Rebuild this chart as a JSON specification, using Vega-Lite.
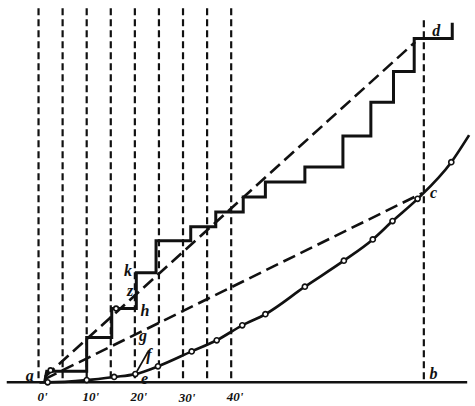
{
  "$schema": "https://vega.github.io/schema/vega-lite/v6.json",
  "width": 475,
  "height": 406,
  "autosize": {"type": "fit", "contains": "padding"},
  "padding": 0,
  "background": "white",
  "config": {"view": {"stroke": null}},
  "datasets": {
    "vlines": [
      {"m": 0, "top": 77.5}, {"m": 5, "top": 77.5}, {"m": 10, "top": 77.5},
      {"m": 15, "top": 77.5}, {"m": 20, "top": 77.5}, {"m": 25, "top": 77.5},
      {"m": 30, "top": 77.5}, {"m": 35, "top": 77.5}, {"m": 40, "top": 77.5},
      {"m": 80, "top": 75}
    ],
    "steps": [
      {"i": 0, "m": 1.3, "y": 0.2}, {"i": 1, "m": 1.7, "y": 2.3}, {"i": 2, "m": 10, "y": 2.3}, {"i": 3, "m": 10, "y": 9.3},
      {"i": 4, "m": 15.2, "y": 9.3}, {"i": 5, "m": 15.2, "y": 15.3}, {"i": 6, "m": 20.3, "y": 15.3}, {"i": 7, "m": 20.3, "y": 22.7},
      {"i": 8, "m": 24.4, "y": 22.7}, {"i": 9, "m": 24.4, "y": 29.3}, {"i": 10, "m": 31.6, "y": 29.3}, {"i": 11, "m": 31.6, "y": 32.2},
      {"i": 12, "m": 36.8, "y": 32.2}, {"i": 13, "m": 36.8, "y": 35.3}, {"i": 14, "m": 42.5, "y": 35.3}, {"i": 15, "m": 42.5, "y": 38.4},
      {"i": 16, "m": 47.1, "y": 38.4}, {"i": 17, "m": 47.1, "y": 41.5}, {"i": 18, "m": 55.3, "y": 41.5}, {"i": 19, "m": 55.3, "y": 44.6},
      {"i": 20, "m": 63.2, "y": 44.6}, {"i": 21, "m": 63.2, "y": 51.0}, {"i": 22, "m": 69.0, "y": 51.0}, {"i": 23, "m": 69.0, "y": 58.0},
      {"i": 24, "m": 73.7, "y": 58.0}, {"i": 25, "m": 73.7, "y": 64.4}, {"i": 26, "m": 78.0, "y": 64.4}, {"i": 27, "m": 78.0, "y": 71.2},
      {"i": 28, "m": 85.9, "y": 71.2}, {"i": 29, "m": 85.9, "y": 74.5}
    ],
    "curve": [
      {"m": 0.2, "y": 0.0, "dot": false},
      {"m": 1.9, "y": 0.0, "dot": true},
      {"m": 10.0, "y": 0.45, "dot": true},
      {"m": 15.7, "y": 1.1, "dot": true},
      {"m": 20.1, "y": 1.7, "dot": true},
      {"m": 24.8, "y": 3.3, "dot": true},
      {"m": 31.8, "y": 6.4, "dot": true},
      {"m": 37.0, "y": 8.7, "dot": true},
      {"m": 42.3, "y": 11.8, "dot": true},
      {"m": 47.1, "y": 14.1, "dot": true},
      {"m": 55.3, "y": 19.8, "dot": true},
      {"m": 63.4, "y": 25.2, "dot": true},
      {"m": 69.4, "y": 29.6, "dot": true},
      {"m": 73.5, "y": 33.4, "dot": true},
      {"m": 78.7, "y": 38.0, "dot": true},
      {"m": 85.7, "y": 45.6, "dot": true},
      {"m": 89.4, "y": 51.2, "dot": false}
    ],
    "chords": [
      {"line": "ad", "m": 1.3, "y": 1.1}, {"line": "ad", "m": 78.2, "y": 70.5},
      {"line": "ac", "m": 1.3, "y": 0.66}, {"line": "ac", "m": 79.7, "y": 39.2}
    ],
    "tangent": [
      {"m": 20.1, "y": 1.7}, {"m": 22.9, "y": 6.6}
    ],
    "marks": [
      {"m": 2.5, "y": 2.5}, {"m": 16.1, "y": 15.3}
    ],
    "letters": [
      {"t": "a", "m": -1.8, "y": 1.3},
      {"t": "b", "m": 82.0, "y": 1.7},
      {"t": "c", "m": 82.0, "y": 39.2},
      {"t": "d", "m": 82.6, "y": 72.8},
      {"t": "e", "m": 22.0, "y": 0.6},
      {"t": "f", "m": 22.9, "y": 5.6},
      {"t": "g", "m": 21.7, "y": 9.5},
      {"t": "h", "m": 22.1, "y": 14.7},
      {"t": "k", "m": 18.6, "y": 23.1},
      {"t": "z", "m": 19.0, "y": 19.0}
    ],
    "ticks": [
      {"t": "0'", "m": 0, "y": -3.0}, {"t": "10'", "m": 10, "y": -3.0}, {"t": "20'", "m": 20, "y": -3.0},
      {"t": "30'", "m": 30, "y": -3.3}, {"t": "40'", "m": 40, "y": -3.0}
    ],
    "axisline": [{"m0": -6.6, "m1": 89.0, "y": 0}]
  },
  "layer": [
    {
      "data": {"name": "vlines"},
      "mark": {"type": "rule", "color": "#111", "strokeWidth": 2.2, "strokeDash": [7, 4]},
      "encoding": {
        "x": {"field": "m", "type": "quantitative", "axis": null, "scale": {"domain": [-8, 90], "nice": false, "zero": false}},
        "y": {"field": "top", "type": "quantitative", "axis": null, "scale": {"domain": [-4.5, 79.2], "nice": false, "zero": false}},
        "y2": {"datum": 0}
      }
    },
    {
      "data": {"name": "axisline"},
      "mark": {"type": "rule", "color": "#111", "strokeWidth": 2.5},
      "encoding": {
        "x": {"field": "m0", "type": "quantitative", "axis": null, "scale": {"domain": [-8, 90], "nice": false, "zero": false}},
        "x2": {"field": "m1"},
        "y": {"field": "y", "type": "quantitative", "axis": null, "scale": {"domain": [-4.5, 79.2], "nice": false, "zero": false}}
      }
    },
    {
      "data": {"name": "chords"},
      "mark": {"type": "line", "color": "#111", "strokeWidth": 2.6, "strokeDash": [13, 6]},
      "encoding": {
        "x": {"field": "m", "type": "quantitative", "axis": null, "scale": {"domain": [-8, 90], "nice": false, "zero": false}},
        "y": {"field": "y", "type": "quantitative", "axis": null, "scale": {"domain": [-4.5, 79.2], "nice": false, "zero": false}},
        "detail": {"field": "line", "type": "nominal"}
      }
    },
    {
      "data": {"name": "steps"},
      "mark": {"type": "line", "color": "#111", "strokeWidth": 3, "strokeJoin": "miter"},
      "encoding": {
        "x": {"field": "m", "type": "quantitative", "axis": null, "scale": {"domain": [-8, 90], "nice": false, "zero": false}},
        "y": {"field": "y", "type": "quantitative", "axis": null, "scale": {"domain": [-4.5, 79.2], "nice": false, "zero": false}},
        "order": {"field": "i", "type": "quantitative"}
      }
    },
    {
      "data": {"name": "curve"},
      "mark": {"type": "line", "color": "#111", "strokeWidth": 2.7, "interpolate": "monotone"},
      "encoding": {
        "x": {"field": "m", "type": "quantitative", "axis": null, "scale": {"domain": [-8, 90], "nice": false, "zero": false}},
        "y": {"field": "y", "type": "quantitative", "axis": null, "scale": {"domain": [-4.5, 79.2], "nice": false, "zero": false}}
      }
    },
    {
      "data": {"name": "tangent"},
      "mark": {"type": "line", "color": "#111", "strokeWidth": 1.8},
      "encoding": {
        "x": {"field": "m", "type": "quantitative", "axis": null, "scale": {"domain": [-8, 90], "nice": false, "zero": false}},
        "y": {"field": "y", "type": "quantitative", "axis": null, "scale": {"domain": [-4.5, 79.2], "nice": false, "zero": false}}
      }
    },
    {
      "data": {"name": "curve"},
      "transform": [{"filter": "datum.dot"}],
      "mark": {"type": "point", "shape": "circle", "filled": true, "fill": "white", "stroke": "#111", "strokeWidth": 1.6, "size": 26, "opacity": 1},
      "encoding": {
        "x": {"field": "m", "type": "quantitative", "axis": null, "scale": {"domain": [-8, 90], "nice": false, "zero": false}},
        "y": {"field": "y", "type": "quantitative", "axis": null, "scale": {"domain": [-4.5, 79.2], "nice": false, "zero": false}}
      }
    },
    {
      "data": {"name": "marks"},
      "mark": {"type": "point", "shape": "circle", "filled": true, "fill": "white", "stroke": "#111", "strokeWidth": 1.6, "size": 22, "opacity": 1},
      "encoding": {
        "x": {"field": "m", "type": "quantitative", "axis": null, "scale": {"domain": [-8, 90], "nice": false, "zero": false}},
        "y": {"field": "y", "type": "quantitative", "axis": null, "scale": {"domain": [-4.5, 79.2], "nice": false, "zero": false}}
      }
    },
    {
      "data": {"name": "letters"},
      "mark": {"type": "text", "font": "Liberation Serif", "fontStyle": "italic", "fontWeight": "bold", "fontSize": 16, "color": "#111", "baseline": "middle", "align": "center"},
      "encoding": {
        "x": {"field": "m", "type": "quantitative", "axis": null, "scale": {"domain": [-8, 90], "nice": false, "zero": false}},
        "y": {"field": "y", "type": "quantitative", "axis": null, "scale": {"domain": [-4.5, 79.2], "nice": false, "zero": false}},
        "text": {"field": "t", "type": "nominal"}
      }
    },
    {
      "data": {"name": "ticks"},
      "mark": {"type": "text", "font": "Liberation Serif", "fontStyle": "italic", "fontWeight": "bold", "fontSize": 13, "color": "#111", "baseline": "middle", "align": "center", "dx": 4},
      "encoding": {
        "x": {"field": "m", "type": "quantitative", "axis": null, "scale": {"domain": [-8, 90], "nice": false, "zero": false}},
        "y": {"field": "y", "type": "quantitative", "axis": null, "scale": {"domain": [-4.5, 79.2], "nice": false, "zero": false}},
        "text": {"field": "t", "type": "nominal"}
      }
    }
  ]
}
